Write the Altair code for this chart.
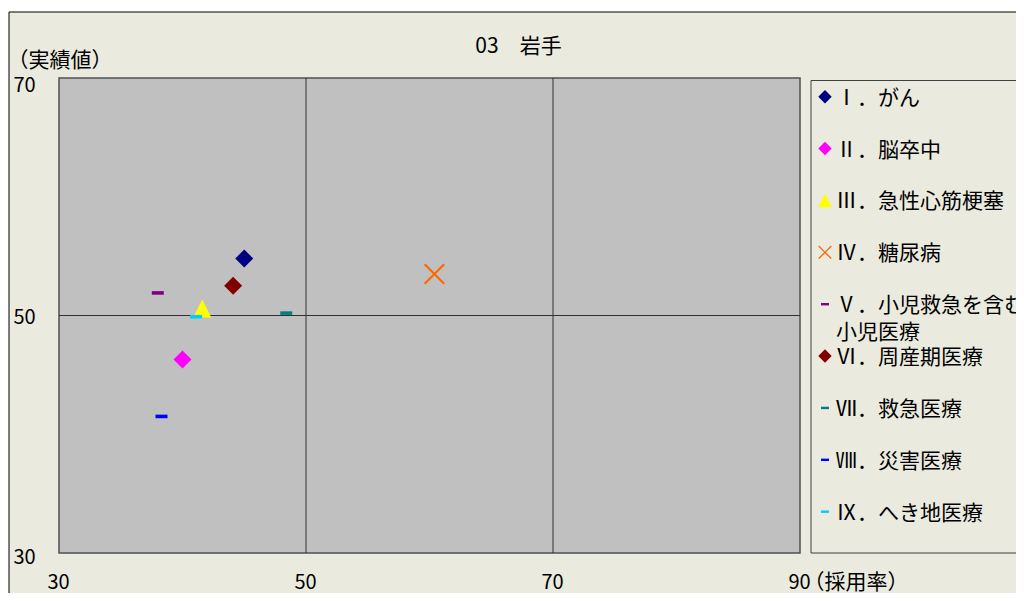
import altair as alt
import pandas as pd

# ---------------- data ----------------
SERIES = [
    "Ⅰ．がん",
    "Ⅱ．脳卒中",
    "Ⅲ．急性心筋梗塞",
    "Ⅳ．糖尿病",
    "Ⅴ．小児救急を含む\n小児医療",
    "Ⅵ．周産期医療",
    "Ⅶ．救急医療",
    "Ⅷ．災害医療",
    "Ⅸ．へき地医療",
]
X_VALUES = [45.0, 40.0, 41.6, 60.4, 38.0, 44.1, 48.4, 38.3, 41.1]   # 採用率
Y_VALUES = [54.8, 46.3, 50.6, 53.5, 51.9, 52.5, 50.2, 41.5, 49.9]   # 実績値
COLORS = ["#000080", "#FF00FF", "#FFFF00", "#FF6600", "#800080",
          "#800000", "#008080", "#0000FF", "#00CCFF"]

X_TICKS = [30, 50, 70, 90]
Y_TICKS = [30, 50, 70]
GRID_X = [50, 70]
GRID_Y = [50]
TITLE = "03　岩手"
X_TITLE = "（採用率）"
Y_TITLE = "（実績値）"

# ---------------- styles ----------------
FONT = "Noto Sans CJK JP"
DIAMOND = "diamond"
TRI = "M0,-1L1,1L-1,1Z"
XSHAPE = ("M-1,-0.86L-0.86,-1L0,-0.14L0.86,-1L1,-0.86L0.14,0L1,0.86"
          "L0.86,1L0,0.14L-0.86,1L-1,0.86L-0.14,0Z")
DASH = "M-0.6,-0.18L0.6,-0.18L0.6,0.18L-0.6,0.18Z"
SHAPES = [DIAMOND, DIAMOND, TRI, XSHAPE, DASH, DIAMOND, DASH, DASH, DASH]
SIZES = [324, 324, 324, 441, 400, 324, 400, 400, 400]

BG = "#EAEADF"
PLOT_BG = "#C0C0C0"
W, H = 741, 475

df = pd.DataFrame({
    "series": SERIES,
    "x": X_VALUES,
    "y": Y_VALUES,
    "sz": SIZES,
    "row": list(range(len(SERIES))),
})

color_scale = alt.Scale(domain=SERIES, range=COLORS)
shape_scale = alt.Scale(domain=SERIES, range=SHAPES)
x_scale = alt.Scale(domain=[30, 90], nice=False, zero=False)
y_scale = alt.Scale(domain=[30, 70], nice=False, zero=False)
leg_scale = alt.Scale(domain=[0, 8], range=[18.7, 433.7], nice=False, zero=False)

x_axis = alt.Axis(
    values=X_TICKS, title=X_TITLE, grid=False, ticks=False, tickSize=0,
    domain=False, labelFont=FONT, labelFontSize=20, labelColor="#000000",
    labelBaseline="middle", labelPadding=29, labelFlush=False, labelOffset=-1,
    titleFont=FONT, titleFontSize=21, titleFontWeight="normal",
    titleColor="#000000", titleX=744, titleY=35, titleAlign="left",
    titleBaseline="alphabetic", zindex=1,
)
y_axis = alt.Axis(
    values=Y_TICKS, title=Y_TITLE, grid=False, ticks=False, tickSize=0,
    domain=False, labelFont=FONT, labelFontSize=20, labelColor="#000000",
    labelAlign="left", labelBaseline="middle", labelPadding=46, labelFlush=False,
    labelOffset={"condition": [{"test": "datum.value == 70", "value": 7},
                               {"test": "datum.value == 30", "value": 4}],
                 "value": 2},
    titleFont=FONT, titleFontSize=21, titleFontWeight="normal",
    titleColor="#000000", titleAngle=0, titleX=-52, titleY=-12,
    titleAlign="left", titleBaseline="alphabetic", zindex=1,
)

one = pd.DataFrame({"k": [0]})

# outer chart frame
frame = alt.Chart(one).mark_rect(fill=BG, stroke="#000000", strokeWidth=1).encode(
    x=alt.value(-50), x2=alt.value(1200), y=alt.value(-66), y2=alt.value(700)
)

# plot area
plot_bg = alt.Chart(one).mark_rect(fill=PLOT_BG, stroke="#505050", strokeWidth=1.5).encode(
    x=alt.value(0), x2=alt.value(W), y=alt.value(0), y2=alt.value(H)
)

# grid lines
grid_x = alt.Chart(pd.DataFrame({"v": GRID_X})).mark_rule(color="#303030", strokeWidth=1).encode(
    x=alt.X("v:Q", scale=x_scale, axis=x_axis)
)
grid_y = alt.Chart(pd.DataFrame({"v": GRID_Y})).mark_rule(color="#303030", strokeWidth=1).encode(
    y=alt.Y("v:Q", scale=y_scale, axis=None)
)

# legend box
leg_box = alt.Chart(one).mark_rect(fill=BG, stroke="#404040", strokeWidth=1).encode(
    x=alt.value(752), x2=alt.value(1200), y=alt.value(2.5), y2=alt.value(H)
)

# data points
points = alt.Chart(df).mark_point(filled=True, opacity=1, strokeWidth=0).encode(
    x=alt.X("x:Q", scale=x_scale, axis=x_axis),
    y=alt.Y("y:Q", scale=y_scale, axis=y_axis),
    color=alt.Color("series:N", scale=color_scale, legend=None),
    shape=alt.Shape("series:N", scale=shape_scale, legend=None),
    size=alt.Size("sz:Q", scale=None, legend=None),
    order=alt.Order("row:Q"),
)

# custom legend
leg_sym = alt.Chart(df).mark_point(filled=True, opacity=1, strokeWidth=0, size=180).encode(
    x=alt.value(766),
    y=alt.Y("row:Q", scale=leg_scale, axis=None),
    color=alt.Color("series:N", scale=color_scale, legend=None),
    shape=alt.Shape("series:N", scale=shape_scale, legend=None),
)
leg_txt = alt.Chart(df).mark_text(
    align="left", baseline="alphabetic", dy=8, lineBreak="\n", lineHeight=27,
    font=FONT, fontSize=21, color="#000000"
).encode(
    x=alt.value(777),
    y=alt.Y("row:Q", scale=leg_scale, axis=None),
    text="series:N",
)

# title
title = alt.Chart(pd.DataFrame({"t": [TITLE]})).mark_text(
    align="center", baseline="alphabetic", font=FONT, fontSize=21, color="#000000"
).encode(x=alt.value(459.5), y=alt.value(-25), text="t:N")

chart = alt.layer(
    frame, plot_bg, grid_x, grid_y, leg_box, points, leg_sym, leg_txt, title
).resolve_scale(
    y="independent"
).properties(
    width=W, height=H,
    autosize=alt.AutoSizeParams(type="none"),
    padding={"left": 51, "top": 70, "right": 216, "bottom": 40},
    background="#FFFFFF",
).configure_view(stroke=None)

chart.save("out.html", embed_options={"renderer": "svg", "actions": False})
